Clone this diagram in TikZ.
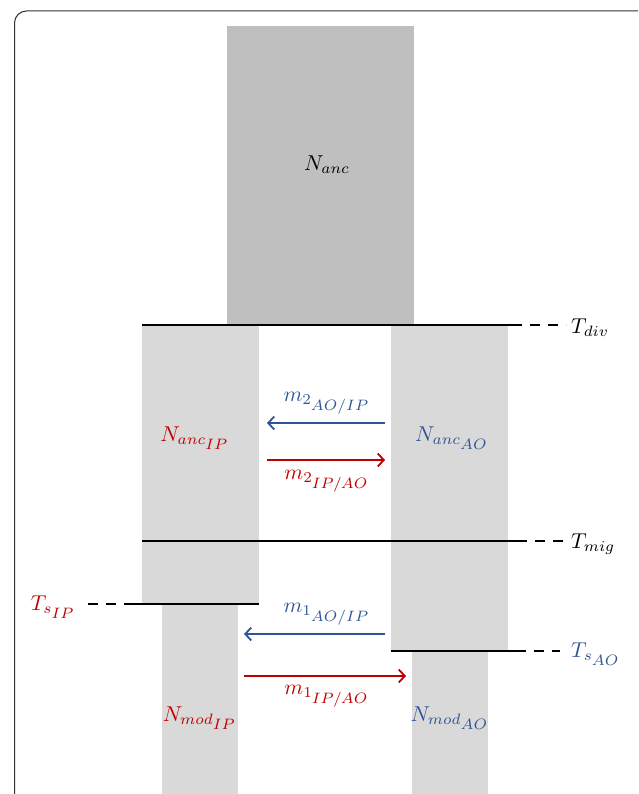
\documentclass[tikz,border=0pt]{standalone}
\usepackage{graphicx}
\usetikzlibrary{arrows.meta}
\definecolor{darkbox}{HTML}{BFBFBF}
\definecolor{lightbox}{HTML}{D9D9D9}
\definecolor{ipred}{HTML}{C00000}
\definecolor{aoblue}{HTML}{2F5597}
\newcommand{\subsub}[1]{{\scriptstyle #1}}
\newcommand{\lab}[1]{\scalebox{2.15}{$#1$}}
\begin{document}
\begin{tikzpicture}[x=1pt,y=-1pt,
  lbl/.style={inner sep=0pt},
  tline/.style={line width=2.6pt, black},
  tdash/.style={line width=2.6pt, black, dash pattern=on 10pt off 8pt},
  marrow/.style={line width=1.8pt, -{Straight Barb[length=6pt,width=13pt,line width=1.8pt]}},
]
\useasboundingbox (0,0) rectangle (638,794);
\begin{scope}
\clip (0,0) rectangle (638,794);
\draw[line width=1pt, black!80, rounded corners=12pt] (14.5,11) rectangle (652,820);
\end{scope}
% boxes
\fill[darkbox] (227,26) rectangle (414,325);
\fill[lightbox] (142,325) rectangle (259,604);
\fill[lightbox] (391,325) rectangle (508,651);
\fill[lightbox] (162,604) rectangle (238,794);
\fill[lightbox] (412,651) rectangle (488,794);
% time lines
\coordinate (divL) at (142,325); \coordinate (divM) at (512,325); \coordinate (divR) at (566,325);
\coordinate (migL) at (142,541); \coordinate (migM) at (517,541); \coordinate (migR) at (564,541);
\coordinate (ipL) at (88,604); \coordinate (ipM) at (132,604); \coordinate (ipR) at (259,604);
\coordinate (aoL) at (391,651); \coordinate (aoM) at (516,651); \coordinate (aoR) at (560,651);
\draw[tline] (divL) -- (divM); \draw[tdash] (divM) -- (divR);
\draw[tline] (migL) -- (migM); \draw[tdash] (migM) -- (migR);
\draw[tline] (ipM) -- (ipR); \draw[tdash] (ipL) -- (ipM);
\draw[tline] (aoL) -- (aoM); \draw[tdash] (aoM) -- (aoR);
\node[lbl, anchor=west] (Tdiv) at (571,328) {\lab{T_{div}}};
\node[lbl, anchor=west] (Tmig) at (571,544) {\lab{T_{mig}}};
\node[lbl, anchor=east, text=ipred] (TsIP) at (76,607) {\lab{T_{s_{\subsub{IP}}}}};
\node[lbl, anchor=west, text=aoblue] (TsAO) at (571,654) {\lab{T_{s_{\subsub{AO}}}}};
% population labels
\node[lbl] (Nanc) at (327,165) {\lab{N_{anc}}};
\node[lbl, text=ipred] (NancIP) at (195,438) {\lab{N_{anc_{\subsub{IP}}}}};
\node[lbl, text=aoblue] (NancAO) at (452,438) {\lab{N_{anc_{\subsub{AO}}}}};
\node[lbl, text=ipred] (NmodIP) at (200,718) {\lab{N_{mod_{\subsub{IP}}}}};
\node[lbl, text=aoblue] (NmodAO) at (450,718) {\lab{N_{mod_{\subsub{AO}}}}};
% migration arrows
\coordinate (m2bS) at (385,423); \coordinate (m2bE) at (267,423);
\coordinate (m2rS) at (267,460); \coordinate (m2rE) at (385,460);
\coordinate (m1bS) at (385,634); \coordinate (m1bE) at (244,634);
\coordinate (m1rS) at (244,676); \coordinate (m1rE) at (406,676);
\draw[marrow, aoblue] (m2bS) -- (m2bE);
\draw[marrow, ipred] (m2rS) -- (m2rE);
\draw[marrow, aoblue] (m1bS) -- (m1bE);
\draw[marrow, ipred] (m1rS) -- (m1rE);
\node[lbl, text=aoblue] (m2AO) at (327,403) {\lab{m_{2_{\subsub{AO/IP}}}}};
\node[lbl, text=ipred] (m2IP) at (327,481) {\lab{m_{2_{\subsub{IP/AO}}}}};
\node[lbl, text=aoblue] (m1AO) at (327,614) {\lab{m_{1_{\subsub{AO/IP}}}}};
\node[lbl, text=ipred] (m1IP) at (327,696) {\lab{m_{1_{\subsub{IP/AO}}}}};
\end{tikzpicture}
\end{document}
